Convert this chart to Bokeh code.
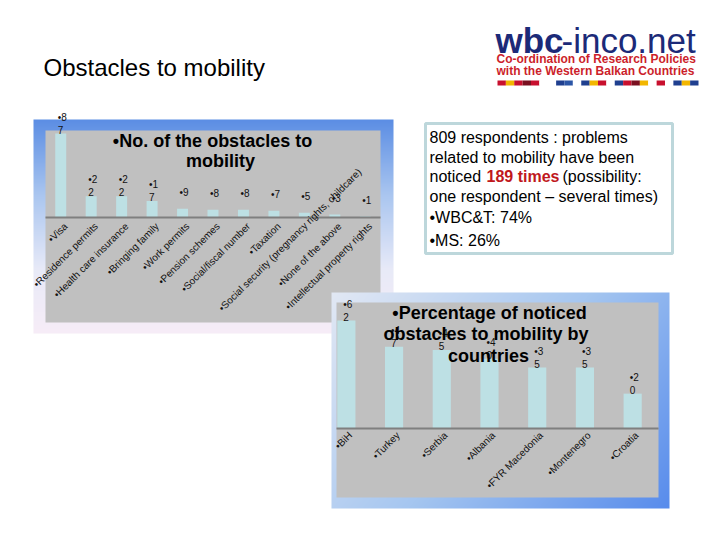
import numpy as np
from bokeh.plotting import figure
from bokeh.models import Range1d, ColumnDataSource
from bokeh.core.properties import value
from bokeh.embed import file_html
from bokeh.resources import INLINE

# ---------------- data ----------------
obstacle_categories = ["Visa", "Residence permits", "Health care insurance", "Bringing family",
                       "Work permits", "Pension schemes", "Social/fiscal number", "Taxation",
                       "Social security (pregnancy rights, childcare)", "None of the above",
                       "Intellectual property rights"]
obstacle_counts = [87, 22, 22, 17, 9, 8, 8, 7, 5, 3, 1]

country_categories = ["BiH", "Turkey", "Serbia", "Albania", "FYR Macedonia", "Montenegro", "Croatia"]
country_percentages = [62, 47, 45, 40, 35, 35, 20]

title_text = "Obstacles to mobility"
chart1_title = ["\u2022No. of the obstacles to", "mobility"]
chart2_title = ["\u2022Percentage of noticed", "obstacles to  mobility by", "countries"]
note_lines = ["809 respondents : problems", "related to mobility have been",
              "noticed", "189 times", "(possibility:", "one respondent \u2013 several times)",
              "\u2022WBC&T: 74%", "\u2022MS:  26%"]

FONT = value("Liberation Sans")
BAR = "#bde0e4"
GREY = "#c0c0c0"

p = figure(width=704, height=524, x_range=Range1d(0, 704), y_range=Range1d(16, 540),
           toolbar_location=None, output_backend="svg", min_border=0,
           x_axis_location=None, y_axis_location=None)
p.grid.visible = False
p.outline_line_color = None
p.background_fill_color = "white"
p.border_fill_color = "white"


def Y(py):
    return 540 - py


def lerp_stops(t, stops):
    pos = np.array([s[0] for s in stops], dtype=float)
    cols = np.array([s[1] for s in stops], dtype=float)
    out = np.zeros(t.shape + (3,))
    for c in range(3):
        out[..., c] = np.interp(t, pos, cols[:, c])
    return out


def rgba_image(rgb):
    h, w, _ = rgb.shape
    img = np.empty((h, w), dtype=np.uint32)
    view = img.view(dtype=np.uint8).reshape((h, w, 4))
    view[..., :3] = np.clip(rgb, 0, 255).astype(np.uint8)
    view[..., 3] = 255
    return img


# ---------------- slide title & logo ----------------
p.text(x=[43], y=[Y(66.5)], text=[title_text], text_font=FONT, text_font_size="24px",
       text_color="black", text_baseline="middle")

p.text(x=[495], y=[Y(40)], text=["wbc"], text_font=FONT, text_font_size="35px",
       text_font_style="bold", text_color="#1c2a78", text_baseline="middle")
p.text(x=[561], y=[Y(40)], text=["-inco.net"], text_font=FONT, text_font_size="35px",
       text_color="#1c2a78", text_baseline="middle")
p.text(x=[496, 496], y=[Y(58), Y(70)],
       text=["Co-ordination of Research Policies", "with the Western Balkan Countries"],
       text_font=FONT, text_font_size="12px", text_font_style="bold",
       text_color="#cc1f2b", text_baseline="middle")

stripe_colors = ["#c8102e", "#f2b600", "#c8102e", "#7a1020", "#c8102e", "#ffffff",
                 "#ffffff", "#1f3f8f", "#2b55a6", "#ffffff", "#1f3f8f", "#f2b600",
                 "#c8102e", "#ffffff", "#1f3f8f", "#c8102e", "#7a1020", "#f2b600",
                 "#ffffff", "#c8102e", "#ffffff", "#1f3f8f", "#f2b600", "#1f3f8f"]
edges = np.linspace(497, 698, len(stripe_colors) + 1)
p.quad(left=edges[:-1], right=edges[1:], bottom=Y(85), top=Y(80),
       fill_color=stripe_colors, line_color=None)

# ---------------- chart 1 frame ----------------
w1, h1 = 360, 214
s_top = 1 - np.arange(h1) / (h1 - 1)
col1 = lerp_stops(s_top, [(0, (92, 142, 228)), (0.35, (170, 198, 240)),
                          (0.7, (232, 234, 248)), (1.0, (247, 237, 247))])
rgb1 = np.repeat(col1[:, None, :], w1, axis=1)
p.image_rgba(image=[rgba_image(rgb1)], x=33, y=Y(333), dw=w1, dh=h1)
p.quad(left=45, right=380, bottom=Y(322), top=Y(130), fill_color=GREY, line_color=None)

n1 = len(obstacle_categories)
s1 = p.subplot(x_source=Range1d(-0.5, n1 - 0.5), y_source=Range1d(0, max(obstacle_counts)),
               x_target=Range1d(45, 380), y_target=Range1d(Y(217), Y(133)))

src1 = ColumnDataSource(dict(
    x=list(range(n1)), top=obstacle_counts,
    l1=["\u2022" + str(v)[0] for v in obstacle_counts],
    l2=[str(v)[1:] for v in obstacle_counts],
))
s1.vbar(x="x", top="top", bottom=0, width=0.36, fill_color=BAR, line_color=None, source=src1)
s1.segment(x0=-0.5, y0=0, x1=n1 - 0.5, y1=0, line_color="#7f7f7f", line_width=2)
s1.text(x="x", y="top", text="l2", source=src1, text_font=FONT, text_font_size="10px",
        text_align="left", text_baseline="bottom", x_offset=-3, y_offset=0, text_color="#111111")
s1.text(x="x", y="top", text="l1", source=src1, text_font=FONT, text_font_size="10px",
        text_align="left", text_baseline="bottom", x_offset=-3, y_offset=-11, text_color="#111111")

short_idx = [i for i, c in enumerate(obstacle_categories) if len(c) <= 32]
long_idx = [i for i, c in enumerate(obstacle_categories) if len(c) > 32]
src1s = ColumnDataSource(dict(x=short_idx, y=[0] * len(short_idx),
                              t=["\u2022" + obstacle_categories[i] for i in short_idx]))
src1l = ColumnDataSource(dict(x=long_idx, y=[0] * len(long_idx),
                              t=["\u2022" + obstacle_categories[i] for i in long_idx]))
s1.text(x="x", y="y", text="t", source=src1s, angle=np.pi / 4, text_align="right",
        text_baseline="middle", x_offset=5, y_offset=7, text_font=FONT,
        text_font_size="10px", text_color="#111111")
s1.text(x="x", y="y", text="t", source=src1l, angle=np.pi / 4, text_align="left",
        text_baseline="middle", x_offset=-84, y_offset=92, text_font=FONT,
        text_font_size="10px", text_color="#111111")

p.text(x=[212, 220], y=[Y(140), Y(160)], text=chart1_title, text_font=FONT,
       text_font_size="18px", text_font_style="bold", text_align="center",
       text_baseline="middle", text_color="black")

# ---------------- note box ----------------
p.quad(left=425, right=672, bottom=Y(253), top=Y(123), fill_color="white",
       line_color="#bdd7db", line_width=3)
p.text(x=[429, 429, 429, 562, 429, 429, 429],
       y=[Y(137.4), Y(157), Y(176.4), Y(176.4), Y(196.4), Y(217.4), Y(240.4)],
       text=[note_lines[0], note_lines[1], note_lines[2], note_lines[4], note_lines[5],
             note_lines[6], note_lines[7]],
       text_font=FONT, text_font_size="16px", text_color="black", text_baseline="middle")
p.text(x=[486], y=[Y(176.4)], text=[note_lines[3]], text_font=FONT, text_font_size="16px",
       text_font_style="bold", text_color="#c0181c", text_baseline="middle")

# ---------------- chart 2 frame ----------------
w2, h2 = 338, 216
u = np.arange(w2)[None, :] / (w2 - 1)
s = (1 - np.arange(h2) / (h2 - 1))[:, None]
d = 0.65 * u + 0.35 * s
col2 = lerp_stops(d, [(0, (226, 232, 244)), (0.5, (165, 198, 240)), (1.0, (88, 140, 236))])
p.image_rgba(image=[rgba_image(col2)], x=331, y=Y(508), dw=w2, dh=h2)
p.quad(left=336, right=658, bottom=Y(497), top=Y(302), fill_color=GREY, line_color=None)

n2 = len(country_categories)
s2 = p.subplot(x_source=Range1d(-0.5, n2 - 0.5), y_source=Range1d(0, max(country_percentages)),
               x_target=Range1d(322, 656), y_target=Range1d(Y(428), Y(320)))
src2 = ColumnDataSource(dict(
    x=list(range(n2)), top=country_percentages,
    l1=["\u2022" + str(v)[0] for v in country_percentages],
    l2=[str(v)[1:] for v in country_percentages],
    t=["\u2022" + c for c in country_categories],
))
s2.vbar(x="x", top="top", bottom=0, width=0.38, fill_color=BAR, line_color=None, source=src2)
p.segment(x0=336, y0=Y(428), x1=658, y1=Y(428), line_color="#7f7f7f", line_width=2)
s2.text(x="x", y="top", text="l2", source=src2, text_font=FONT, text_font_size="10px",
        text_align="left", text_baseline="bottom", x_offset=-3, y_offset=0, text_color="#111111")
s2.text(x="x", y="top", text="l1", source=src2, text_font=FONT, text_font_size="10px",
        text_align="left", text_baseline="bottom", x_offset=-3, y_offset=-11, text_color="#111111")
s2.text(x="x", y=0, text="t", source=src2, angle=np.pi / 4, text_align="right",
        text_baseline="middle", x_offset=4, y_offset=5, text_font=FONT,
        text_font_size="10px", text_color="#111111")

p.text(x=[489, 488, 488], y=[Y(312), Y(333), Y(355)], text=chart2_title, text_font=FONT,
       text_font_size="18px", text_font_style="bold", text_align="center",
       text_baseline="middle", text_color="black")

open("out.html", "w").write(file_html(p, INLINE))
